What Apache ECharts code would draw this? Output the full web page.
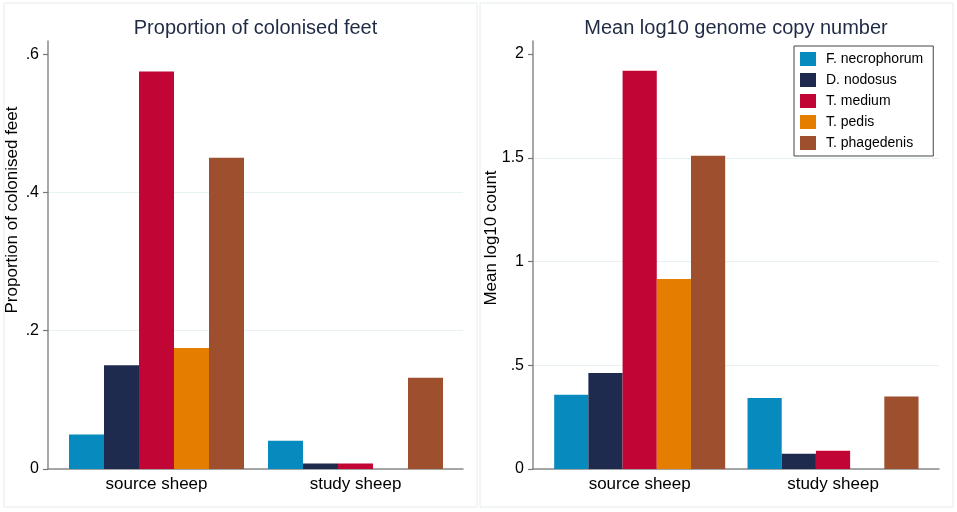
<!DOCTYPE html>
<html>
<head>
<meta charset="utf-8">
<title>Colonised feet and genome copy number</title>
<script src="https://cdn.jsdelivr.net/npm/echarts@6/dist/echarts.min.js"></script>
<style>
  html, body { margin: 0; padding: 0; background: #fff; }
  #main { width: 957px; height: 512px; }
</style>
</head>
<body>
<div id="main"></div>
<script>
// groups on the x axis
var categories = ['source sheep', 'study sheep'];
var species = ['F. necrophorum', 'D. nodosus', 'T. medium', 'T. pedis', 'T. phagedenis'];
var colors = ['#078bbf', '#1e2b4f', '#c10534', '#e47d00', '#9e4f2d'];

// proportion of colonised feet, one row per species: [source, study]
var propColonised = [
  [0.050, 0.041],
  [0.150, 0.008],
  [0.575, 0.008],
  [0.175, 0.000],
  [0.450, 0.132]
];

// mean log10 genome copy number, one row per species: [source, study]
var meanLog10 = [
  [0.358, 0.342],
  [0.463, 0.074],
  [1.920, 0.088],
  [0.916, 0.000],
  [1.510, 0.350]
];

var leftTicks = [0, 0.2, 0.4, 0.6];
var rightTicks = [0, 0.5, 1, 1.5, 2];

var FONT = '"Liberation Sans", Arial, sans-serif';
var axisGrey = '#8a8a8a';
var gridGrey = '#e8f1f3';

function stataLabel(v) {
  return v === 0 ? '0' : String(v).replace(/^0\./, '.');
}

var myChart = echarts.init(document.getElementById('main'));

// frame axis (with line, ticks, labels, split lines)
function frameY(max, ticks) {
  return {
    type: 'value', min: 0, max: max,
    axisLine: { show: true, lineStyle: { color: axisGrey, width: 1.5 } },
    axisTick: { show: true, inside: false, length: 5, customValues: ticks,
                lineStyle: { color: '#777', width: 1.2 } },
    axisLabel: { customValues: ticks, margin: 9, color: '#000', fontSize: 16, fontFamily: FONT, formatter: stataLabel },
    splitLine: { show: true, showMaxLine: false, lineStyle: { color: gridGrey, width: 1 } }
  };
}
function hiddenY(max) {
  return { type: 'value', min: 0, max: max, show: false, splitLine: { show: false } };
}

var series = [];
for (var i = 0; i < species.length; i++) {
  series.push({
    type: 'bar', name: species[i], xAxisIndex: 1, yAxisIndex: 1,
    barWidth: 35, barGap: 0,
    itemStyle: { color: colors[i] },
    data: propColonised[i]
  });
}
for (var j = 0; j < species.length; j++) {
  series.push({
    type: 'bar', name: species[j], xAxisIndex: 3, yAxisIndex: 3,
    barWidth: 34.2, barGap: 0,
    itemStyle: { color: colors[j] },
    data: meanLog10[j]
  });
}

var option = {
  backgroundColor: '#fff',
  animation: false,
  grid: [
    { left: 48, right: 494, top: 41, bottom: 43 },
    { left: 57, right: 502, top: 41, bottom: 43 },
    { left: 533, right: 18, top: 41, bottom: 43 },
    { left: 543, right: 27.3, top: 41, bottom: 43 }
  ],
  xAxis: [
    { type: 'category', gridIndex: 0, data: categories,
      axisLine: { lineStyle: { color: axisGrey, width: 1.5 } },
      axisTick: { show: false }, axisLabel: { show: false } },
    { type: 'category', gridIndex: 1, data: categories,
      axisLine: { show: false }, axisTick: { show: false },
      axisLabel: { margin: 7, color: '#000', fontSize: 17, fontFamily: FONT } },
    { type: 'category', gridIndex: 2, data: categories,
      axisLine: { lineStyle: { color: axisGrey, width: 1.5 } },
      axisTick: { show: false }, axisLabel: { show: false } },
    { type: 'category', gridIndex: 3, data: categories,
      axisLine: { show: false }, axisTick: { show: false },
      axisLabel: { margin: 7, color: '#000', fontSize: 17, fontFamily: FONT } }
  ],
  yAxis: [
    Object.assign(frameY(0.619, leftTicks), { gridIndex: 0 }),
    Object.assign(hiddenY(0.619), { gridIndex: 1 }),
    Object.assign(frameY(2.063, rightTicks), { gridIndex: 2 }),
    Object.assign(hiddenY(2.063), { gridIndex: 3 })
  ],
  legend: {
    data: species,
    orient: 'vertical',
    left: 794, top: 46,
    padding: [6, 10, 6, 6],
    itemWidth: 16, itemHeight: 14, itemGap: 7,
    icon: 'rect',
    backgroundColor: '#fff',
    borderColor: '#444', borderWidth: 1, borderRadius: 0,
    selectedMode: false,
    textStyle: { fontSize: 14, fontFamily: FONT, color: '#000', padding: [0, 0, 0, 5] }
  },
  graphic: [
    { type: 'rect', z: -10, shape: { x: 4, y: 3, width: 473, height: 504 },
      style: { fill: 'none', stroke: '#e4ecee', lineWidth: 1 } },
    { type: 'rect', z: -10, shape: { x: 480, y: 3, width: 473, height: 504 },
      style: { fill: 'none', stroke: '#e4ecee', lineWidth: 1 } },
    { type: 'text', x: 255.5, y: 28,
      style: { text: 'Proportion of colonised feet', font: '20px ' + FONT, fill: '#1f2a44',
               textAlign: 'center', textVerticalAlign: 'middle' } },
    { type: 'text', x: 736, y: 28,
      style: { text: 'Mean log10 genome copy number', font: '20px ' + FONT, fill: '#1f2a44',
               textAlign: 'center', textVerticalAlign: 'middle' } },
    { type: 'text', x: 12, y: 210, rotation: Math.PI / 2,
      style: { text: 'Proportion of colonised feet', font: '17px ' + FONT, fill: '#000',
               textAlign: 'center', textVerticalAlign: 'middle' } },
    { type: 'text', x: 491, y: 238, rotation: Math.PI / 2,
      style: { text: 'Mean log10 count', font: '17px ' + FONT, fill: '#000',
               textAlign: 'center', textVerticalAlign: 'middle' } }
  ],
  series: series
};

myChart.setOption(option);
</script>
</body>
</html>
